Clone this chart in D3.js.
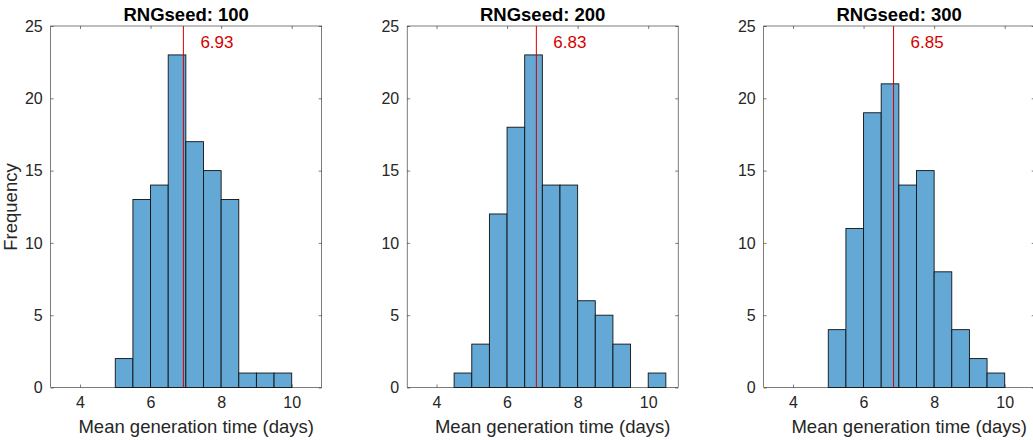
<!DOCTYPE html>
<html><head><meta charset="utf-8">
<script src="https://cdn.jsdelivr.net/npm/d3@7"></script>
<style>body{margin:0;background:#fff}text{font-family:"Liberation Sans",Arial,sans-serif}</style>
</head><body><svg id="c" width="1033" height="440"></svg>
<script>
const binEdges = [3.5,4,4.5,5,5.5,6,6.5,7,7.5,8,8.5,9,9.5,10,10.5];
const seeds = ["RNGseed: 100","RNGseed: 200","RNGseed: 300"];
const counts100 = [0,0,0,2,13,14,23,17,15,13,1,1,1,0];
const counts200 = [0,0,1,3,12,18,23,14,14,6,5,3,0,1];
const counts300 = [0,0,0,4,11,19,21,14,15,8,4,2,1,0];
const means = [6.93,6.83,6.85];
const xTicks = [4,6,8,10];
const yTicks = [0,5,10,15,20,25];
const allCounts = [counts100,counts200,counts300];

const svg = d3.select("#c");
const W = 271, pTop = 26, pBot = 387.5;
const lefts = [50.7, 407.2, 763.7];
allCounts.forEach((counts,i)=>{
  const L = lefts[i];
  const x = d3.scaleLinear().domain([3.17,10.85]).range([L,L+W]);
  const y = d3.scaleLinear().domain([0,25]).range([pBot,pTop]);
  const g = svg.append("g");
  g.append("rect").attr("x",L).attr("y",pTop).attr("width",W).attr("height",pBot-pTop)
    .attr("fill","none").attr("stroke","#262626").attr("stroke-width",0.6);
  const ax = g.append("g").attr("transform",`translate(0,${pBot})`)
    .call(d3.axisBottom(x).tickValues(xTicks).tickSize(-3).tickPadding(9).tickFormat(d3.format("d")));
  const axt = g.append("g").attr("transform",`translate(0,${pTop})`)
    .call(d3.axisTop(x).tickValues(xTicks).tickSize(-3).tickFormat(""));
  const ay = g.append("g").attr("transform",`translate(${L},0)`)
    .call(d3.axisLeft(y).tickValues(yTicks).tickSize(-3).tickPadding(8));
  const ayr = g.append("g").attr("transform",`translate(${L+W},0)`)
    .call(d3.axisRight(y).tickValues(yTicks).tickSize(-3).tickFormat(""));
  [ax,axt,ay,ayr].forEach(a=>{a.select(".domain").remove();
    a.selectAll("line").attr("stroke","#262626").attr("stroke-width",0.6);
    a.selectAll("text").attr("fill","#262626").style("font-size","16px");});
  g.selectAll(".bar").data(counts).join("rect")
    .attr("x",(d,j)=>x(binEdges[j])).attr("width",(d,j)=>x(binEdges[j+1])-x(binEdges[j]))
    .attr("y",d=>y(d)).attr("height",d=>y(0)-y(d))
    .attr("fill","#64a8d6").attr("stroke","#111").attr("stroke-width",0.9);
  g.append("line").attr("x1",x(means[i])).attr("x2",x(means[i])).attr("y1",pTop).attr("y2",pBot)
    .attr("stroke","#d40000").attr("stroke-width",1);
  g.append("text").attr("x",x(means[i])+17).attr("y",48).attr("fill","#d40000")
    .style("font-size","17px").text(means[i].toFixed(2));
  g.append("text").attr("x",L+W/2).attr("y",21).attr("text-anchor","middle")
    .style("font-size","18.5px").style("font-weight","bold").attr("fill","#000").text(seeds[i]);
  g.append("text").attr("x",L+W/2+10).attr("y",433).attr("text-anchor","middle")
    .style("font-size","18.5px").attr("fill","#262626").text("Mean generation time (days)");
});
svg.append("text").attr("transform","translate(17,207) rotate(-90)").attr("text-anchor","middle")
  .style("font-size","18.5px").attr("fill","#262626").text("Frequency");
</script></body></html>
